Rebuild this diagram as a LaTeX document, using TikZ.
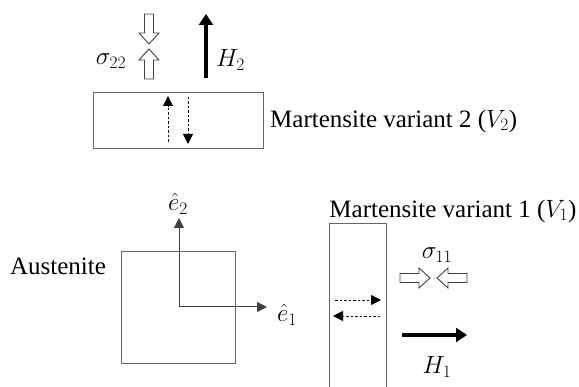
\RequirePackage{fix-cm}
\documentclass[tikz,border=0pt]{standalone}
\usepackage{fontspec}
\setmainfont{Liberation Serif}
\usetikzlibrary{arrows.meta}
\tikzset{
  box/.style={draw=black!60, line width=0.9pt, inner sep=0pt, anchor=north west},
  lbl/.style={inner sep=0pt, font=\fontsize{25}{30}\selectfont},
  axis/.style={draw=black!75, line width=1pt, -{Triangle[length=10pt,width=10pt]}},
  thick arrow/.style={draw=black, line width=4.5pt, -{Triangle[length=11pt,width=14pt]}},
  dash arrow/.style={draw=black, line width=0.9pt, dash pattern=on 2.5pt off 2pt, -{Triangle[length=10pt,width=10pt]}},
  hollow/.style={draw=black!75, line width=0.9pt, fill=white},
}
% hollow arrow pic: drawn pointing in +x, length 30, shaft half-width 4.5, head half-width 10, head length 11
\tikzset{pics/hollowarrow/.style={code={
  \draw[hollow] (0,-4.5) -- (19,-4.5) -- (19,-10) -- (30,0) -- (19,10) -- (19,4.5) -- (0,4.5) -- cycle;
}}}
\begin{document}
\begin{tikzpicture}[x=1pt,y=-1pt]
\useasboundingbox (0,0) rectangle (579,387);
% top martensite variant 2
\node[box, minimum width=170pt, minimum height=56pt] (v2) at (93,92) {};
\node[lbl, anchor=west] (v2lbl) at (270,121) {Martensite variant 2 ($V_2$)};
\draw[dash arrow] (168,142) -- (168,96);
\draw[dash arrow] (188,97) -- (188,144);
% sigma22 hollow arrows
\pic[rotate=-90] at (149,14) {hollowarrow};
\pic[rotate=90] at (149,79) {hollowarrow};
\node[lbl, anchor=center] (s22) at (111,61) {$\sigma_{22}$};
% H2
\coordinate (h2a) at (206,78);
\coordinate (h2b) at (206,14);
\draw[thick arrow] (h2a) -- (h2b);
\node[lbl, anchor=west] (h2lbl) at (216,60) {$H_2$};
% austenite
\node[box, minimum width=114pt, minimum height=112pt] (aus) at (121,251) {};
\node[lbl, anchor=center] (auslbl) at (58,266) {Austenite};
\coordinate (o) at (179,307);
\coordinate (e2tip) at (179,218);
\coordinate (e1tip) at (267,307);
\draw[axis] (o) -- (e2tip);
\draw[axis] (o) -- (e1tip);
\node[lbl, anchor=center] (e2lbl) at (178,204) {$\hat{e}_2$};
\node[lbl, anchor=center] (e1lbl) at (287,315) {$\hat{e}_1$};
% martensite variant 1
\node[box, minimum width=57pt, minimum height=180pt] (v1) at (329,223) {};
\node[lbl, anchor=center] (v1lbl) at (453,211) {Martensite variant 1 ($V_1$)};
\draw[dash arrow] (335,300) -- (381,300);
\draw[dash arrow] (380,316) -- (333,316);
% sigma11
\node[lbl, anchor=center] (s11) at (437,255) {$\sigma_{11}$};
\pic at (400,278) {hollowarrow};
\pic[rotate=180] at (467,278) {hollowarrow};
% H1
\coordinate (h1a) at (402,335);
\coordinate (h1b) at (467,335);
\draw[thick arrow] (h1a) -- (h1b);
\node[lbl, anchor=center] (h1lbl) at (437,367) {$H_1$};
\end{tikzpicture}
\end{document}
